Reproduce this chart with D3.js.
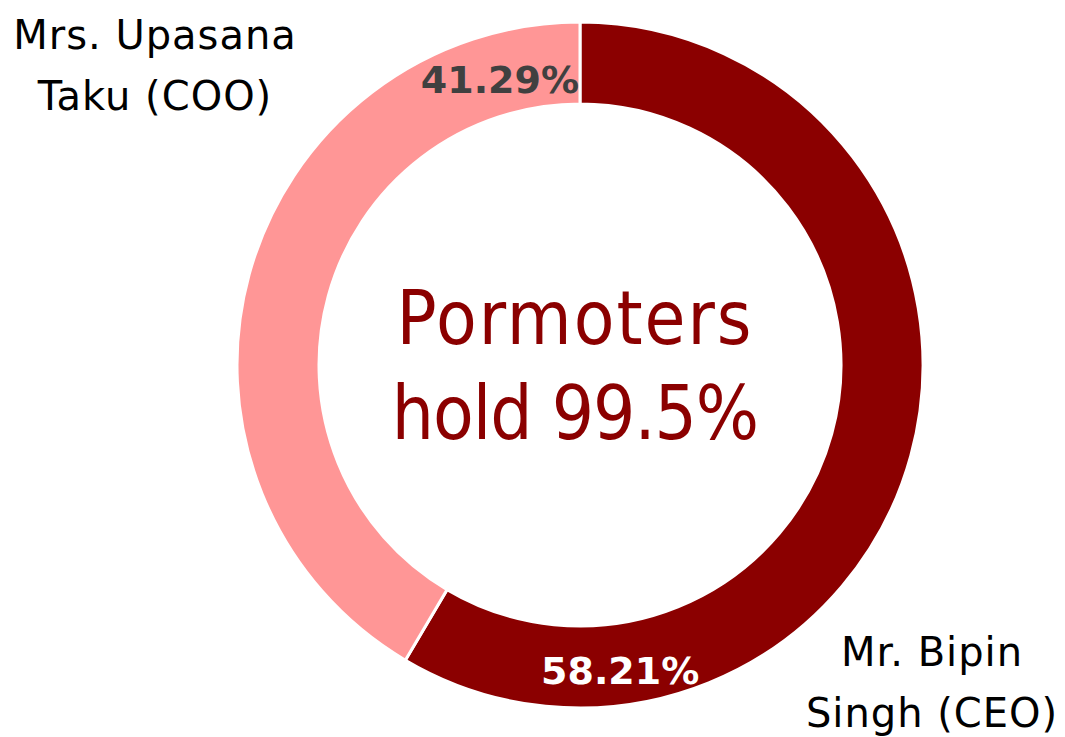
<!DOCTYPE html>
<html>
<head>
<meta charset="utf-8">
<script src="https://cdn.jsdelivr.net/npm/d3@7"></script>
<style>
  body { margin: 0; background: #fff; }
  text { font-family: "DejaVu Sans", sans-serif; }
</style>
</head>
<body>
<div id="chart"></div>
<script>
// donnees
const holders = ['Mr. Bipin Singh (CEO)', 'Mrs. Upasana Taku (COO)']
const shares = [58.21, 41.29]
const pctLabels = ['58.21%', '41.29%']
const centerLines = ['Pormoters', 'hold 99.5%']

const width = 1065, height = 737
const cx = 580, cy = 365
const outerR = 343, innerR = 261

const svg = d3.select('#chart').append('svg')
    .attr('width', width)
    .attr('height', height)

const g = svg.append('g').attr('transform', `translate(${cx},${cy})`)

const color = d3.scaleOrdinal().domain(holders).range(['#8B0000', '#FF9696'])

const pie = d3.pie().sort(null).value(d => d.v)
const arcs = pie(holders.map((h, i) => ({ h: h, v: shares[i] })))

const arc = d3.arc().innerRadius(innerR).outerRadius(outerR)

g.selectAll('path')
    .data(arcs)
    .join('path')
    .attr('d', arc)
    .attr('fill', d => color(d.data.h))
    .attr('stroke', '#fff')
    .attr('stroke-width', 3)

// pourcentages (pres de la fin de chaque tranche)
const labelOffsets = [0.665, 0.274]   // radians avant endAngle
const labelRadius = [308, 296]
const pctColors = ['#ffffff', '#404040']
g.selectAll('text.pct')
    .data(arcs)
    .join('text')
    .attr('class', 'pct')
    .attr('x', (d, i) => labelRadius[i] * Math.sin(d.endAngle - labelOffsets[i]))
    .attr('y', (d, i) => -labelRadius[i] * Math.cos(d.endAngle - labelOffsets[i]))
    .attr('dy', '0.35em')
    .attr('text-anchor', 'middle')
    .attr('font-size', 38)
    .attr('font-weight', 'bold')
    .attr('fill', (d, i) => pctColors[i])
    .text((d, i) => pctLabels[i])

// texte central
const centerSpacing = [2, -1]
centerLines.forEach((l, i) => {
    svg.append('text')
        .attr('x', 575)
        .attr('y', 344 + i * 95)
        .attr('text-anchor', 'middle')
        .style('font-family', '"DejaVu Sans Condensed", "DejaVu Sans", sans-serif')
        .attr('font-size', 74)
        .attr('letter-spacing', centerSpacing[i])
        .attr('fill', '#8B0000')
        .text(l)
})

// noms
const nameLines = [['Mr. Bipin', 'Singh (CEO)'], ['Mrs. Upasana', 'Taku (COO)']]
const namePos = [[932, 666], [155, 49]]
nameLines.forEach((lines, i) => {
    const t = svg.append('text')
        .attr('text-anchor', 'middle')
        .attr('font-size', 40)
        .attr('letter-spacing', 1)
        .attr('fill', '#000')
    lines.forEach((l, j) => {
        t.append('tspan')
            .attr('x', namePos[i][0])
            .attr('y', namePos[i][1] + j * 61)
            .text(l)
    })
})
</script>
</body>
</html>
